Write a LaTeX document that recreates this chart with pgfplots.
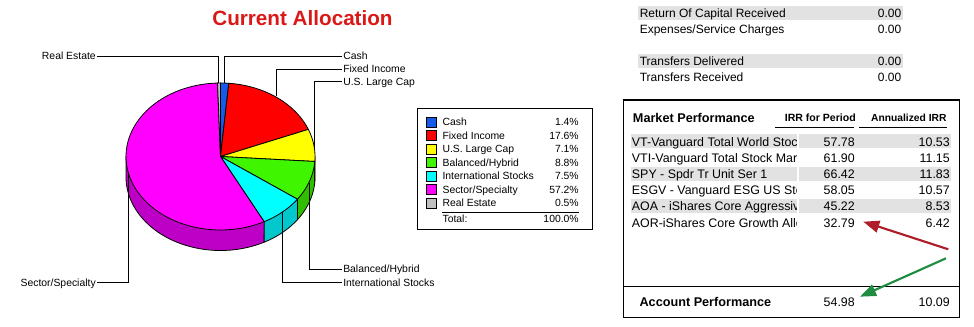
\documentclass[border=0pt]{standalone}
\usepackage{fontspec}
\setmainfont{Liberation Sans}
\usepackage{pgfplots}
\pgfplotsset{compat=1.18}
\usetikzlibrary{arrows.meta}

\definecolor{cCash}{RGB}{20,90,235}
\definecolor{cFixed}{RGB}{255,0,0}
\definecolor{cLarge}{RGB}{255,255,0}
\definecolor{cBal}{RGB}{64,245,0}
\definecolor{cIntl}{RGB}{0,255,255}
\definecolor{cSect}{RGB}{255,0,255}
\definecolor{cReal}{RGB}{192,192,192}
\definecolor{sLarge}{RGB}{200,200,0}
\definecolor{sBal}{RGB}{50,190,0}
\definecolor{sIntl}{RGB}{0,200,205}
\definecolor{sSect}{RGB}{190,0,198}
\definecolor{titlered}{RGB}{218,24,24}
\definecolor{band}{RGB}{226,226,226}
\definecolor{arrred}{RGB}{175,30,40}
\definecolor{arrgreen}{RGB}{30,140,65}

% allocation (percent)
\def\pCash{1.4}\def\pFixed{17.6}\def\pLarge{7.1}\def\pBal{8.8}
\def\pIntl{7.5}\def\pSect{57.2}\def\pReal{0.5}

% pie geometry (pixels)
\def\cx{220.5}\def\cy{156.5}\def\rx{94.5}\def\ry{73.5}\def\dep{20.5}

\pgfmathsetmacro\psum{\pCash+\pFixed+\pLarge+\pBal+\pIntl+\pSect+\pReal}
\pgfmathsetmacro\aA{90}
\pgfmathsetmacro\aB{\aA-(\pCash/\psum)*360}
\pgfmathsetmacro\aC{\aB-(\pFixed/\psum)*360}
\pgfmathsetmacro\aD{\aC-(\pLarge/\psum)*360}
\pgfmathsetmacro\aE{\aD-(\pBal/\psum)*360}
\pgfmathsetmacro\aF{\aE-(\pIntl/\psum)*360}
\pgfmathsetmacro\aG{\aF-(\pSect/\psum)*360}
\pgfmathsetmacro\aH{\aG-(\pReal/\psum)*360}

\newcommand\topslice[3]{%
  \addplot[fill=#3, draw=black, line width=0.6pt, domain=#2:#1, samples=80, variable=\t]
    ({\cx+\rx*cos(\t)},{\cy-\ry*sin(\t)}) -- (axis cs:\cx,\cy) -- cycle;}
\newcommand\wall[3]{%
  \addplot[fill=#3, draw=black, line width=0.6pt, domain=#2:#1, samples=80, variable=\t]
    ({\cx+\rx*cos(\t)},{\cy-\ry*sin(\t)+\dep})
    -- (axis cs:{\cx+\rx*cos(#1)},{\cy-\ry*sin(#1)})
    -- (axis cs:\cx,\cy)
    -- (axis cs:{\cx+\rx*cos(#2)},{\cy-\ry*sin(#2)}) -- cycle;}
\newcommand\swatch[2]{%
  \addplot[only marks, mark=square*, mark size=3.75pt,
    mark options={fill=#2, draw=black, line width=0.6pt}] coordinates {(431,#1)};}

\begin{document}
\begin{tikzpicture}
\path[use as bounding box] (0,0) rectangle (730.5pt,-245.25pt);
\begin{axis}[at={(0,0)}, anchor=north west, x=0.75pt, y=0.75pt,
  xmin=0, xmax=974, ymin=0, ymax=327, y dir=reverse,
  hide axis, clip=false, enlargelimits=false]
  % side walls
  \wall{\aF}{-180}{sSect}
  \wall{\aE}{\aF}{sIntl}
  \wall{\aD}{\aE}{sBal}
  \wall{0}{\aD}{sLarge}
  % top faces
  \topslice{\aA}{\aB}{cCash}
  \topslice{\aB}{\aC}{cFixed}
  \topslice{\aC}{\aD}{cLarge}
  \topslice{\aD}{\aE}{cBal}
  \topslice{\aE}{\aF}{cIntl}
  \topslice{\aF}{\aG}{cSect}
  \topslice{\aG}{\aH}{cReal}
  % legend swatches
  \swatch{122.3}{cCash}
  \swatch{135.8}{cFixed}
  \swatch{149.3}{cLarge}
  \swatch{162.8}{cBal}
  \swatch{176.3}{cIntl}
  \swatch{189.8}{cSect}
  \swatch{203.3}{cReal}
\end{axis}

\begin{scope}[x=0.75pt, y=-0.75pt,
  lab/.style={font=\fontsize{7.8}{9}\selectfont, inner sep=0pt},
  tbl/.style={font=\fontsize{9}{11}\selectfont, inner sep=0pt},
  mp/.style={font=\fontsize{9.3}{11}\selectfont, inner sep=0pt}]
  % title
  \node[anchor=base, inner sep=0pt, text=titlered, font=\fontsize{15.5}{17}\selectfont\bfseries] at (302.5,26) {Current Allocation};
  % leader lines
  \draw[line width=0.75pt] (97,56.7) -- (218.5,56.7) -- (218.5,83.5);
  \draw[line width=0.75pt] (224.5,83.5) -- (224.5,56.7) -- (342,56.7);
  \draw[line width=0.75pt] (276.7,96.5) -- (276.7,69.3) -- (342,69.3);
  \draw[line width=0.75pt] (314.3,150) -- (314.3,82) -- (342,82);
  \draw[line width=0.75pt] (309.3,183) -- (309.3,269.3) -- (342,269.3);
  \draw[line width=0.75pt] (282.7,212) -- (282.7,282.7) -- (342,282.7);
  \draw[line width=0.75pt] (128.5,172) -- (128.5,282.7) -- (97,282.7);
  % pie labels
  \node[lab, anchor=base east] at (96,59.5) {Real Estate};
  \node[lab, anchor=base west] at (343,59.5) {Cash};
  \node[lab, anchor=base west] at (343,72.5) {Fixed Income};
  \node[lab, anchor=base west] at (343,85.5) {U.S. Large Cap};
  \node[lab, anchor=base west] at (343,273) {Balanced/Hybrid};
  \node[lab, anchor=base west] at (343,286.4) {International Stocks};
  \node[lab, anchor=base east] at (96,286.4) {Sector/Specialty};
  % legend box
  \draw[line width=0.75pt] (417.3,108.3) rectangle (592.3,230);
  \draw[line width=0.75pt] (442,212.7) -- (579,212.7);
  \foreach \yy/\nm/\pv in {122.3/Cash/\pCash, 135.8/Fixed Income/\pFixed,
      149.3/U.S. Large Cap/\pLarge, 162.8/Balanced\slash Hybrid/\pBal,
      176.3/International Stocks/\pIntl, 189.8/Sector\slash Specialty/\pSect,
      203.3/Real Estate/\pReal} {
    \node[lab, anchor=base west] at (442.3,\yy+3.7) {\nm};
    \node[lab, anchor=base east] at (579,\yy+3.7) {\pv\%};
  }
  \node[lab, anchor=base west] at (442.3,223) {Total:};
  \node[lab, anchor=base east] at (579,223) {100.0\%};
  % top-right table
  \fill[band] (638.3,6) rectangle (902.7,19.6);
  \fill[band] (638.3,54.3) rectangle (902.7,67.9);
  \node[tbl, anchor=base west] at (639.5,17.5) {Return Of Capital Received};
  \node[tbl, anchor=base east] at (901.5,17.5) {0.00};
  \node[tbl, anchor=base west] at (639.5,33.5) {Expenses/Service Charges};
  \node[tbl, anchor=base east] at (901.5,33.5) {0.00};
  \node[tbl, anchor=base west] at (639.5,65.6) {Transfers Delivered};
  \node[tbl, anchor=base east] at (901.5,65.6) {0.00};
  \node[tbl, anchor=base west] at (639.5,82) {Transfers Received};
  \node[tbl, anchor=base east] at (901.5,82) {0.00};
  % market performance box
  \draw[line width=0.9pt] (623.3,100) rectangle (959.3,317.3);
  \draw[line width=0.9pt] (623.3,286.7) -- (959.3,286.7);
  \node[inner sep=0pt, anchor=base west, font=\fontsize{9.5}{11}\selectfont\bfseries] at (632.7,122.8) {Market Performance};
  \node[inner sep=0pt, anchor=base east, font=\fontsize{7.9}{9}\selectfont\bfseries] at (856,121.8) {IRR for Period};
  \node[inner sep=0pt, anchor=base east, font=\fontsize{7.7}{9}\selectfont\bfseries] at (946.7,121.8) {Annualized IRR};
  \draw[line width=1pt] (775,127.3) -- (854,127.3);
  \draw[line width=1pt] (859,127.3) -- (946.7,127.3);
  \foreach \yy in {142,174.2,206.4} {
    \fill[band] (631,\yy-7.5) rectangle (796.7,\yy+6.5);
    \fill[band] (799,\yy-7.5) rectangle (951,\yy+6.5);
  }
  \begin{scope}
    \clip (629,130) rectangle (796.7,232);
    \foreach \yy/\nm in {142/VT-Vanguard Total World Stoc, 158.1/VTI-Vanguard Total Stock Mar,
        174.2/SPY - Spdr Tr Unit Ser 1, 190.3/ESGV - Vanguard ESG US Stoc,
        206.4/AOA - iShares Core Aggressive, 222.5/AOR-iShares Core Growth Alloc} {
      \node[mp, anchor=base west] at (631.7,\yy+4.6) {\nm};
    }
  \end{scope}
  \foreach \yy/\va/\vb in {142/57.78/10.53, 158.1/61.90/11.15, 174.2/66.42/11.83,
      190.3/58.05/10.57, 206.4/45.22/8.53, 222.5/32.79/6.42} {
    \node[mp, anchor=base east] at (855,\yy+4.6) {\va};
    \node[mp, anchor=base east] at (950,\yy+4.6) {\vb};
  }
  \node[inner sep=0pt, anchor=base west, font=\fontsize{9.5}{11}\selectfont\bfseries] at (639.3,306.2) {Account Performance};
  \node[mp, anchor=base east] at (855,306.2) {54.98};
  \node[mp, anchor=base east] at (950,306.2) {10.09};
  % arrows
  \draw[arrred, line width=1.6pt, -{Triangle[length=12pt, width=9pt]}] (948.3,249.3) -- (863.3,221.7);
  \draw[arrgreen, line width=1.6pt, -{Triangle[length=12pt, width=9pt]}] (946,258.3) -- (860,296.7);
\end{scope}
\end{tikzpicture}
\end{document}
